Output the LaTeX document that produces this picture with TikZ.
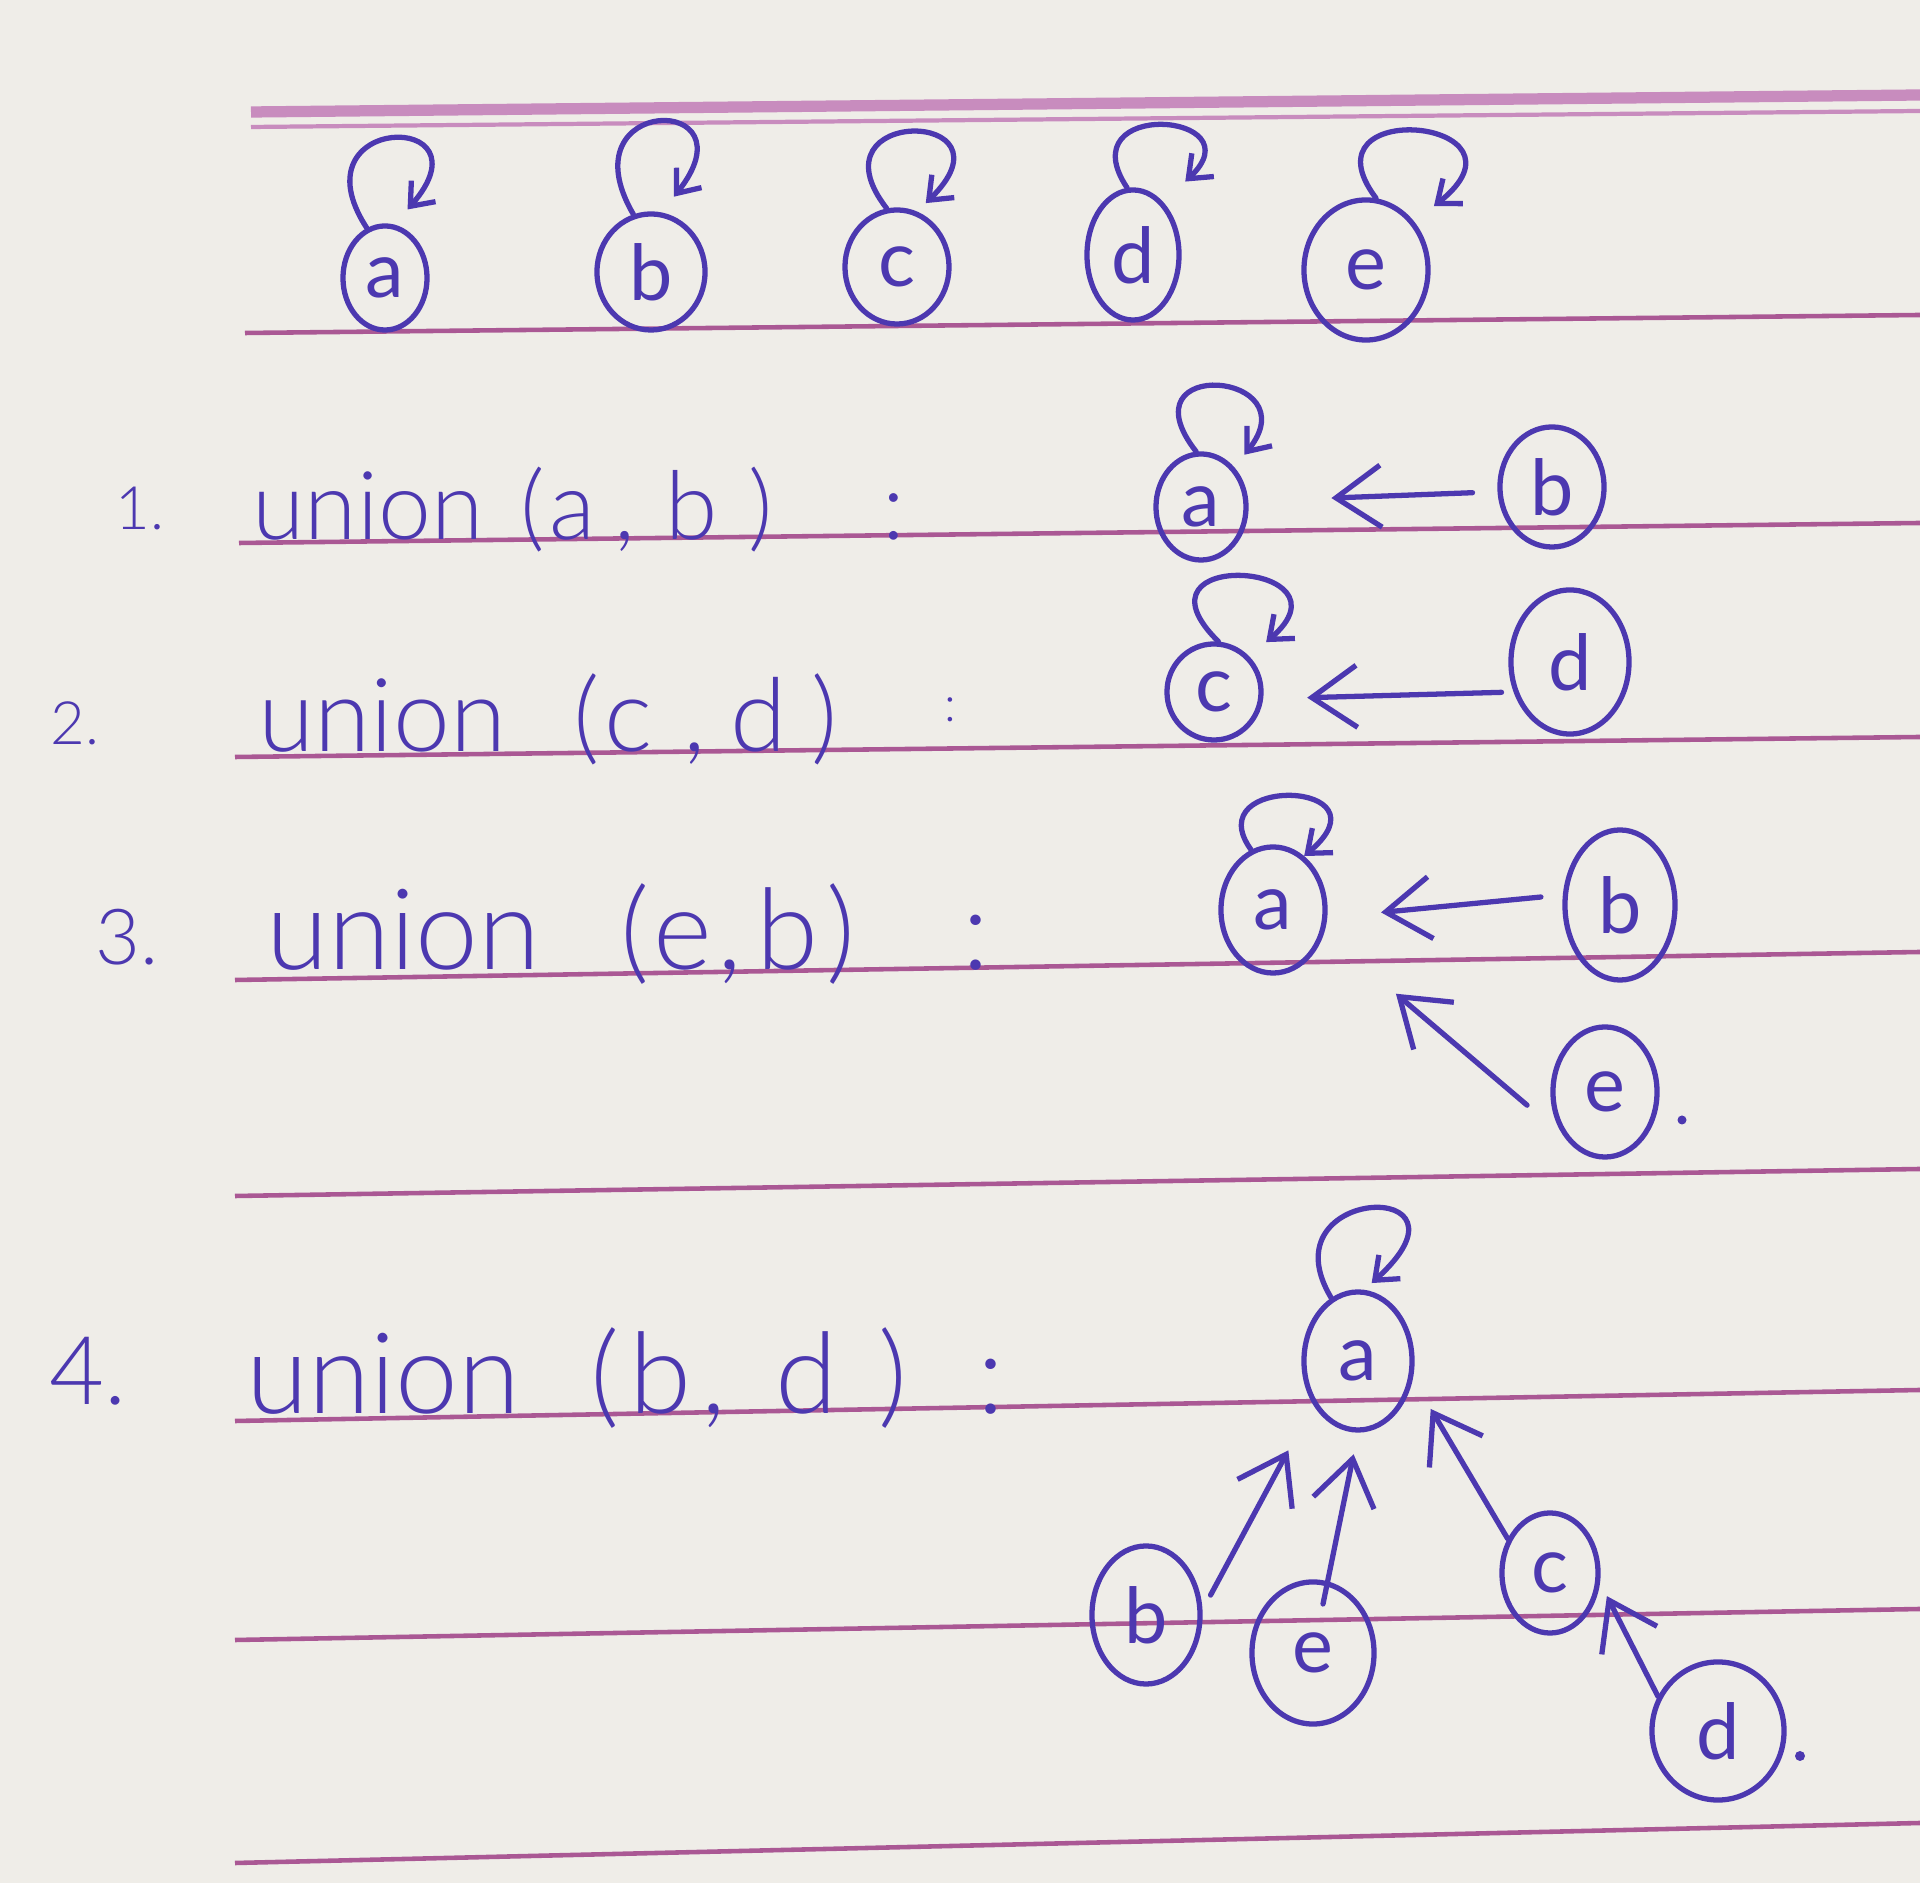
\documentclass[tikz,border=0pt]{standalone}
\usepackage{fontspec}
\IfFontExistsTF{Lato Light}{\newfontfamily\hand{Lato Light}}{\newfontfamily\hand{Lato}}
\newfontfamily\handreg{Lato}
\usetikzlibrary{shapes.geometric,arrows.meta}
\definecolor{ink}{RGB}{76,56,176}
\definecolor{rulec}{RGB}{170,88,148}
\definecolor{rulelight}{RGB}{200,140,190}
\definecolor{paper}{RGB}{239,237,232}
\newcommand{\hs}[1]{\hspace{#1cm}}
\begin{document}
\begin{tikzpicture}[x=0.01cm,y=-0.01cm,
  vx/.style={ellipse, draw=ink, line width=1.5pt, inner sep=0pt, text=ink,
    font=\handreg\fontsize{22}{22}\selectfont},
  arr/.style={draw=ink, line width=1.5pt, line cap=round, line join=round,
    -{Straight Barb[length=0.45cm,width=0.62cm]}},
  looparr/.style={draw=ink, line width=1.5pt, line cap=round, line join=round,
    -{Straight Barb[length=0.2cm,width=0.32cm]}},
  ruled/.style={draw=rulec, line width=1.3pt},
  lbl/.style={text=ink, inner sep=0pt, anchor=base west}]
\useasboundingbox (0,0) rectangle (1920,1883);
\fill[paper] (0,0) rectangle (1920,1883);
% ruled lines
\draw[draw=rulelight, line width=3.2pt] (251,112) -- (1920,95);
\draw[draw=rulelight, line width=1.2pt] (251,127) -- (1920,111);
\draw[ruled] (245,333) -- (1920,315);
\draw[ruled] (239,543) -- (1920,523);
\draw[ruled] (235,757) -- (1920,737);
\draw[ruled] (235,980) -- (1920,952);
\draw[ruled] (235,1196) -- (1920,1169);
\draw[ruled] (235,1421) -- (1920,1390);
\draw[ruled] (235,1640) -- (1920,1609);
\draw[ruled] (235,1863) -- (1920,1823);
% top row
\node[vx, minimum width=0.84cm, minimum height=1.04cm] (a0) at (385,278) {a};
\node[vx, minimum width=1.08cm, minimum height=1.16cm] (b0) at (651,272) {b};
\node[vx, minimum width=1.04cm, minimum height=1.14cm] (c0) at (897,267) {c};
\node[vx, minimum width=0.92cm, minimum height=1.30cm] (d0) at (1133,255) {d};
\node[vx, minimum width=1.24cm, minimum height=1.40cm] (e0) at (1366,270) {e};
\draw[looparr, shorten >=0.2cm] (a0.110) .. controls +(-75,-115) and +(100,-115) .. (a0.80);
\draw[looparr, shorten >=0.2cm] (b0.107) .. controls +(-70,-120) and +(95,-120) .. (b0.80);
\draw[looparr, shorten >=0.12cm] (c0.100) .. controls +(-80,-103) and +(105,-103) .. (c0.70);
\draw[looparr, shorten >=0.3cm] (d0.95) .. controls +(-60,-90) and +(95,-90) .. (d0.60);
\draw[looparr, shorten >=0.25cm] (e0.82) .. controls +(-78,-103) and +(130,-103) .. (e0.45);
% labels
\node[lbl, font=\hand\fontsize{17}{17}\selectfont] (n1) at (115,530) {1.};
\node[lbl, font=\hand\fontsize{27}{27}\selectfont] (t1) at (252,540)
  {union\hs{0.37}(\hs{0.04}a\hs{0.2},\hs{0.3}b\hs{0.3})\hs{1.1}:};
\node[lbl, font=\hand\fontsize{17}{17}\selectfont] (n2) at (50,745) {2.};
\node[lbl, font=\hand\fontsize{29}{29}\selectfont] (t2) at (258,752)
  {union\hs{0.67}(\hs{0.05}c\hs{0.3},\hs{0.25}d\hs{0.25})\hs{1.07}\raisebox{0.3cm}{\fontsize{14}{14}\selectfont :}};
\node[lbl, font=\hand\fontsize{22}{22}\selectfont] (n3) at (95,965) {3.};
\node[lbl, font=\hand\fontsize{32}{32}\selectfont] (t3) at (266,970)
  {union\hs{0.8}(\hs{0.04}e\hs{0.05},\hs{0.15}b\hs{0.08})\hs{1.07}:};
\node[lbl, font=\hand\fontsize{27}{27}\selectfont] (n4) at (49,1405) {4.};
\node[lbl, font=\hand\fontsize{32}{32}\selectfont] (t4) at (246,1414)
  {union\hs{0.7}(\hs{0.1}b\hs{0.1},\hs{0.5}d\hs{0.4})\hs{0.7}:};
% row 1
\node[vx, minimum width=0.90cm, minimum height=1.06cm] (a1) at (1201,507) {a};
\node[vx, minimum width=1.04cm, minimum height=1.20cm] (b1) at (1552,487) {b};
\draw[looparr, shorten >=0.16cm] (a1.95) .. controls +(-75,-96) and +(77,-96) .. (a1.50);
\draw[arr, shorten <=0.25cm, shorten >=0.83cm] (b1.185) -- (a1.7);
% row 2
\node[vx, minimum width=0.94cm, minimum height=0.96cm] (c2) at (1214,692) {c};
\node[vx, minimum width=1.18cm, minimum height=1.44cm] (d2) at (1570,662) {d};
\draw[looparr, shorten >=0.22cm] (c2.85) .. controls +(-97,-95) and +(110,-95) .. (c2.45);
\draw[arr, shorten <=0.12cm, shorten >=0.44cm] (d2.208) -- (c2.-8);
% row 3
\node[vx, minimum width=1.04cm, minimum height=1.26cm] (a3) at (1273,910) {a};
\node[vx, minimum width=1.10cm, minimum height=1.50cm] (b3) at (1620,905) {b};
\node[vx, minimum width=1.04cm, minimum height=1.30cm] (e3) at (1605,1092) {e};
\draw[looparr] (a3.110) .. controls +(-55,-76) and +(90,-76) .. (a3.60);
\draw[arr, shorten <=0.22cm, shorten >=0.54cm] (b3.170) -- (a3.-8);
\draw[arr, shorten <=0.48cm, shorten >=0.94cm] (e3.227) -- (a3.-24);
\fill[ink] (1682,1120) circle[radius=0.045cm];
% row 4
\node[vx, minimum width=1.08cm, minimum height=1.38cm] (a4) at (1358,1361) {a};
\node[vx, minimum width=1.08cm, minimum height=1.38cm] (b4) at (1146,1615) {b};
\node[vx, minimum width=1.22cm, minimum height=1.42cm] (e4) at (1313,1653) {e};
\node[vx, minimum width=0.96cm, minimum height=1.20cm] (c4) at (1550,1573) {c};
\node[vx, minimum width=1.32cm, minimum height=1.38cm] (d4) at (1718,1731) {d};
\draw[looparr, shorten >=0.1cm] (a4.113) .. controls +(-68,-113) and +(125,-113) .. (a4.85);
\draw[arr, shorten <=0.17cm, shorten >=0.52cm] (b4.5) -- (a4.224);
\draw[arr, shorten <=0.5cm, shorten >=0.22cm] (e4.center) -- (a4.south);
\draw[arr, shorten >=0.35cm] (c4.141) -- (a4.-18);
\draw[arr, shorten >=0.15cm] (d4.150) -- (c4.-11);
\fill[ink] (1800,1756) circle[radius=0.05cm];
\end{tikzpicture}
\end{document}
